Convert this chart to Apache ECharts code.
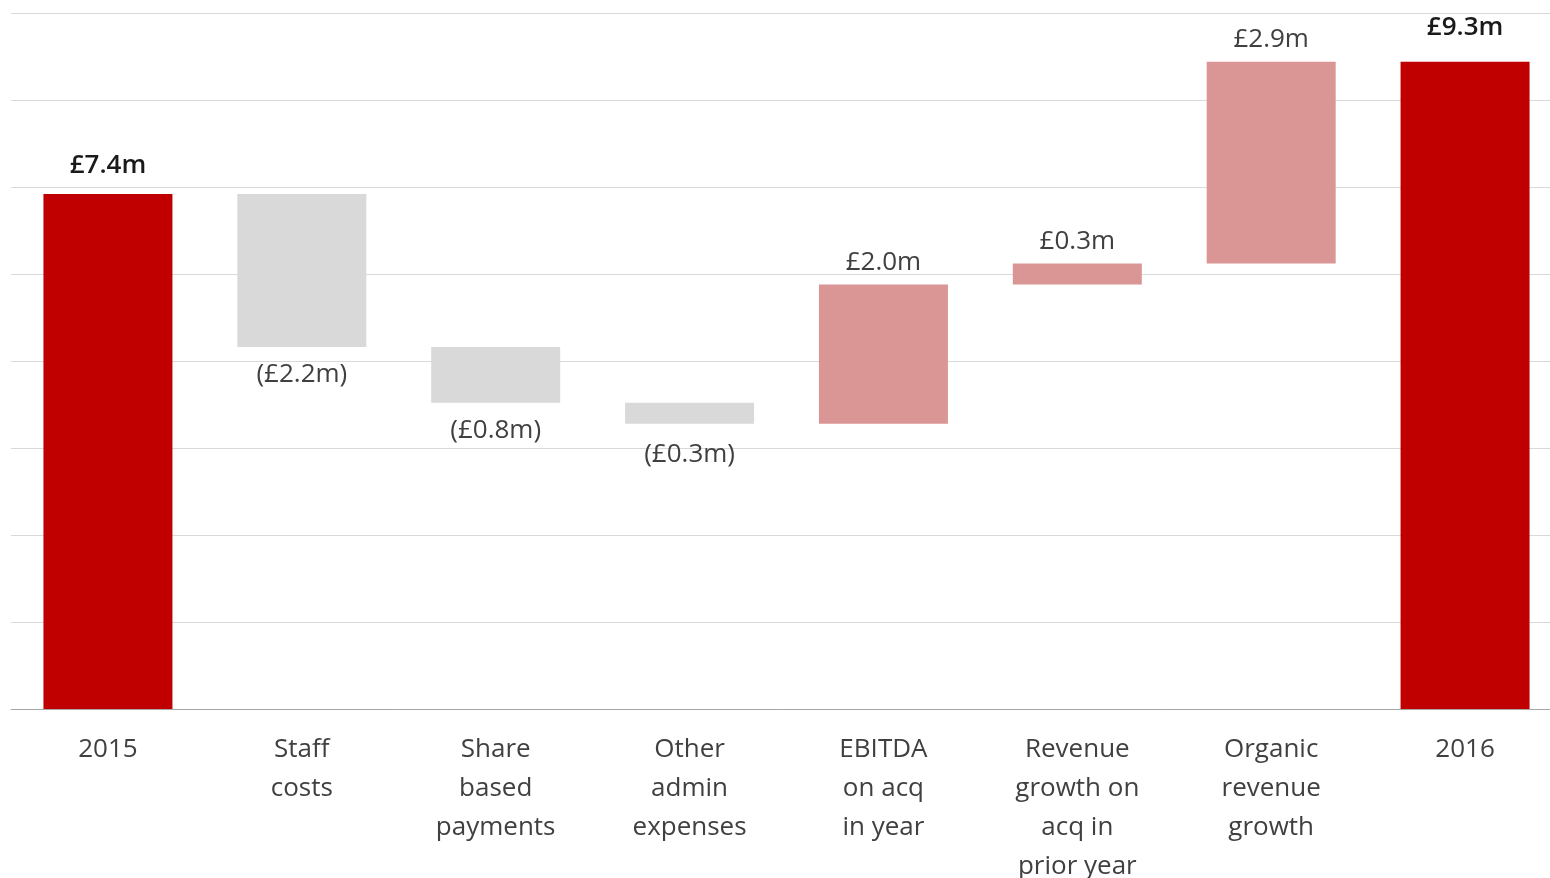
<!DOCTYPE html>
<html>
<head>
<meta charset="utf-8">
<script src="https://cdn.jsdelivr.net/npm/echarts@6/dist/echarts.min.js"></script>
<style>html,body{margin:0;padding:0;background:#fff;overflow:hidden}#c{width:1550px;height:878px}</style>
</head>
<body>
<div id="c"></div>
<script>
var categories = ['2015', 'Staff\ncosts', 'Share\nbased\npayments', 'Other\nadmin\nexpenses', 'EBITDA\non acq\nin year', 'Revenue\ngrowth on\nacq in\nprior year', 'Organic\nrevenue\ngrowth', '2016'];
var changes = [7.4, -2.2, -0.8, -0.3, 2.0, 0.3, 2.9, 9.3];
var kinds = ['total', 'neg', 'neg', 'neg', 'pos', 'pos', 'pos', 'total'];
var valueLabels = ['£7.4m', '(£2.2m)', '(£0.8m)', '(£0.3m)', '£2.0m', '£0.3m', '£2.9m', '£9.3m'];

var colors = { total: '#C00000', neg: '#D9D9D9', pos: '#DA9694' };
var FONT = '"Open Sans", "Noto Sans", sans-serif';

var base = [], visible = [];
var running = 0;
for (var i = 0; i < changes.length; i++) {
  var k = kinds[i], v = changes[i];
  var lbl = { show: true, formatter: valueLabels[i], fontFamily: FONT, fontSize: 26 };
  if (k === 'total') {
    base.push(0);
    running = v;
    lbl.position = 'top';
    lbl.distance = i === 0 ? 15 : 21;
    lbl.color = '#1a1a1a';
    lbl.fontWeight = 600;
    visible.push({ value: v, itemStyle: { color: colors[k] }, label: lbl });
  } else if (k === 'neg') {
    var newR = running + v;
    base.push(newR);
    lbl.position = 'bottom';
    lbl.distance = i === 3 ? 18 : 15;
    lbl.color = '#404040';
    visible.push({ value: -v, itemStyle: { color: colors[k] }, label: lbl });
    running = newR;
  } else {
    base.push(running);
    lbl.position = 'top';
    lbl.distance = 9;
    lbl.color = '#404040';
    visible.push({ value: v, itemStyle: { color: colors[k] }, label: lbl });
    running = running + v;
  }
}

var chart = echarts.init(document.getElementById('c'));
chart.setOption({
  animation: false,
  grid: { left: 11, top: 13, width: 1551, height: 696, containLabel: false, outerBoundsMode: 'none' },
  xAxis: {
    type: 'category',
    data: categories,
    axisLine: { show: true, lineStyle: { color: '#A6A6A6', width: 1 } },
    axisTick: { show: false },
    axisLabel: {
      interval: 0, margin: 21, color: '#404040', fontFamily: FONT, fontSize: 26, lineHeight: 39
    }
  },
  yAxis: {
    type: 'value', min: 0, max: 10, interval: 1.25,
    axisLabel: { show: false }, axisLine: { show: false }, axisTick: { show: false },
    splitLine: { show: true, lineStyle: { color: '#D9D9D9', width: 1 } }
  },
  series: [
    { type: 'bar', stack: 'w', data: base, barWidth: 129, itemStyle: { color: 'transparent' }, silent: true },
    { type: 'bar', stack: 'w', data: visible, barWidth: 129 }
  ]
});
</script>
</body>
</html>
